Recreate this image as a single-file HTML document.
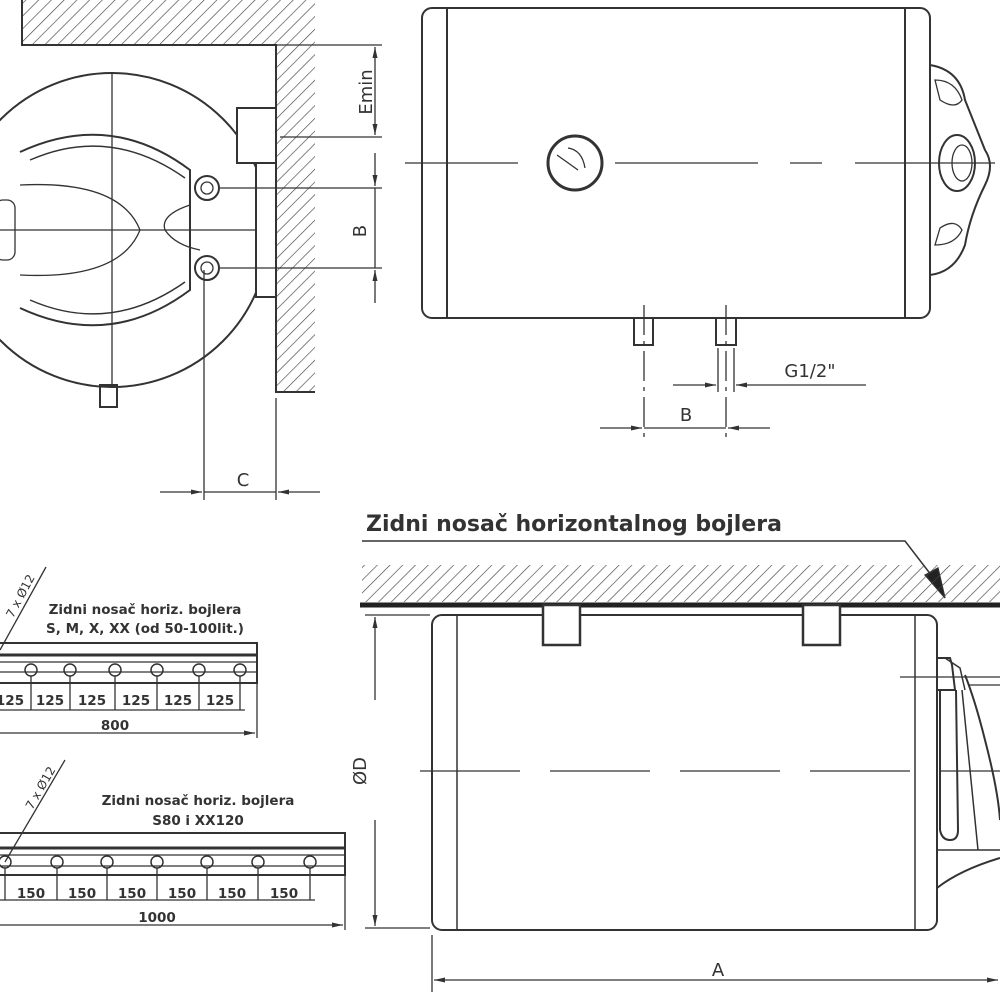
<!DOCTYPE html>
<html><head><meta charset="utf-8"><style>
html,body{margin:0;padding:0;background:#fff}
svg{display:block}
text{font-family:"DejaVu Sans","Liberation Sans",sans-serif;fill:#333}
</style></head><body>
<svg width="1000" height="1000" viewBox="0 0 1000 1000" xmlns="http://www.w3.org/2000/svg">
<defs>
<pattern id="h" width="9" height="9" patternUnits="userSpaceOnUse" patternTransform="rotate(45)">
<line x1="0" y1="0" x2="0" y2="9" stroke="#444" stroke-width="1.3"/>
</pattern>
<marker id="a" markerWidth="12" markerHeight="8" refX="11" refY="4" orient="auto" markerUnits="userSpaceOnUse">
<path d="M0,1.5 L11,4 L0,6.5 Z" fill="#333"/></marker>
</defs>
<g stroke="#333" fill="none" stroke-width="1.3">
<rect x="22" y="0" width="293" height="45" fill="url(#h)" stroke="none"/>
<rect x="276" y="45" width="39" height="347" fill="url(#h)" stroke="none"/>
<polyline points="22,0 22,45 276,45 276,392 315,392" stroke-width="2"/>
<circle cx="112" cy="230" r="157" stroke-width="2"/>
<line x1="112" y1="73" x2="112" y2="385"/>
<line x1="0" y1="230" x2="268" y2="230"/>
<path d="M20,152 Q110,110 190,170 L190,290 Q110,350 20,308" stroke-width="2"/>
<path d="M30,160 Q110,125 185,178 M30,300 Q110,335 185,282" stroke-width="1.5"/>
<path d="M20,185 Q120,180 140,230 Q120,280 20,275"/>
<path d="M190,205 Q160,215 165,230 Q175,245 200,250"/>
<rect x="-5" y="200" width="20" height="60" rx="8"/>
<circle cx="207" cy="188" r="12" stroke-width="2"/><circle cx="207" cy="188" r="6"/>
<circle cx="207" cy="268" r="12" stroke-width="2"/><circle cx="207" cy="268" r="6"/>
<rect x="237" y="108" width="39" height="55" fill="#fff" stroke-width="2"/>
<rect x="256" y="163" width="20" height="134" fill="#fff" stroke-width="2"/>
<rect x="100" y="385" width="17" height="22" stroke-width="2"/>
<line x1="276" y1="45" x2="382" y2="45"/>
<line x1="280" y1="137" x2="382" y2="137"/>
<line x1="375" y1="90" x2="375" y2="47" marker-end="url(#a)"/>
<line x1="375" y1="90" x2="375" y2="135" marker-end="url(#a)"/>
<line x1="220" y1="188" x2="382" y2="188"/>
<line x1="220" y1="268" x2="382" y2="268"/>
<line x1="375" y1="153" x2="375" y2="186" marker-end="url(#a)"/>
<line x1="375" y1="303" x2="375" y2="270" marker-end="url(#a)"/>
<line x1="375" y1="188" x2="375" y2="268"/>
<line x1="204" y1="270" x2="204" y2="500"/>
<line x1="276" y1="398" x2="276" y2="500"/>
<line x1="160" y1="492" x2="202" y2="492" marker-end="url(#a)"/>
<line x1="320" y1="492" x2="278" y2="492" marker-end="url(#a)"/>
<line x1="204" y1="492" x2="276" y2="492"/>
<rect x="422" y="8" width="508" height="310" rx="10" stroke-width="2"/>
<line x1="447" y1="8" x2="447" y2="318" stroke-width="2"/>
<line x1="905" y1="8" x2="905" y2="318" stroke-width="2"/>
<line x1="405" y1="163" x2="518" y2="163"/>
<line x1="615" y1="163" x2="758" y2="163"/>
<line x1="790" y1="163" x2="822" y2="163"/>
<line x1="855" y1="163" x2="995" y2="163"/>
<circle cx="575" cy="163" r="27" stroke-width="3"/>
<path d="M557,155 L578,170 M568,148 Q582,150 585,168"/>
<path d="M930,65 Q960,70 965,100 Q975,125 985,150 Q995,165 985,185 Q970,215 965,245 Q955,272 930,275" stroke-width="2"/>
<path d="M935,80 Q955,80 962,100 Q955,110 940,100 Z M935,245 Q955,245 962,230 Q955,218 940,228 Z"/>
<ellipse cx="957" cy="163" rx="18" ry="28" stroke-width="2"/>
<ellipse cx="962" cy="163" rx="10" ry="18"/>
<rect x="634" y="318" width="19" height="27" stroke-width="2"/>
<rect x="716" y="318" width="20" height="27" stroke-width="2"/>
<line x1="644" y1="305" x2="644" y2="440" stroke-dasharray="30,6,4,6"/>
<line x1="726" y1="305" x2="726" y2="440" stroke-dasharray="30,6,4,6"/>
<line x1="718" y1="348" x2="718" y2="392"/><line x1="734" y1="348" x2="734" y2="392"/>
<line x1="673" y1="385" x2="716" y2="385" marker-end="url(#a)"/>
<line x1="866" y1="385" x2="736" y2="385" marker-end="url(#a)"/>
<line x1="600" y1="428" x2="642" y2="428" marker-end="url(#a)"/>
<line x1="770" y1="428" x2="728" y2="428" marker-end="url(#a)"/>
<line x1="644" y1="428" x2="726" y2="428"/>
<polyline points="362,541 905,541 935,580" stroke-width="1.5"/>
<path d="M925,575 L945,598 L938,568 Z" fill="#222"/>
<rect x="362" y="565" width="638" height="37" fill="url(#h)" stroke="none"/>
<line x1="360" y1="605" x2="1000" y2="605" stroke-width="5" stroke="#222"/>
<!-- bottom boiler -->
<rect x="432" y="615" width="505" height="315" rx="10" stroke-width="2"/>
<line x1="457" y1="615" x2="457" y2="930" stroke-width="1.5"/>
<line x1="915" y1="615" x2="915" y2="930" stroke-width="1.5"/>
<rect x="543" y="605" width="37" height="40" fill="#fff" stroke-width="2.5"/>
<rect x="803" y="605" width="37" height="40" fill="#fff" stroke-width="2.5"/>
<line x1="420" y1="771" x2="1000" y2="771" stroke-dasharray="100,30"/>
<!-- cap -->
<path d="M937,658 L950,658 L952,665 L955,690 L937,690" stroke-width="2"/>
<path d="M945,658 L960,668 L965,690" stroke-width="1.5"/>
<path d="M940,690 L940,830 Q942,840 950,840 Q958,840 958,830 L956,690" stroke-width="2"/>
<path d="M962,690 L978,850" stroke-width="1.5"/>
<path d="M965,675 Q975,700 985,740 Q998,790 1000,820" stroke-width="2"/>
<line x1="900" y1="677" x2="1000" y2="677"/>
<line x1="968" y1="685" x2="1000" y2="685"/>
<line x1="937" y1="850" x2="1000" y2="850" stroke-width="1.5"/>
<path d="M937,888 Q960,870 1000,858" stroke-width="2"/>
<line x1="365" y1="615" x2="430" y2="615"/>
<line x1="365" y1="928" x2="430" y2="928"/>
<line x1="375" y1="700" x2="375" y2="617" marker-end="url(#a)"/>
<line x1="375" y1="820" x2="375" y2="926" marker-end="url(#a)"/>
<line x1="432" y1="935" x2="432" y2="992"/>
<line x1="600" y1="980" x2="434" y2="980" marker-end="url(#a)"/>
<line x1="600" y1="980" x2="998" y2="980" marker-end="url(#a)"/>
<!-- bracket 1 -->
<rect x="-2" y="643" width="259" height="40" stroke-width="2"/>
<line x1="0" y1="655" x2="257" y2="655" stroke-width="3"/>
<line x1="0" y1="662" x2="257" y2="662"/>
<line x1="0" y1="672" x2="257" y2="672"/>
<g stroke-width="1.5">
<circle cx="31" cy="670" r="6"/><circle cx="70" cy="670" r="6"/><circle cx="115" cy="670" r="6"/><circle cx="157" cy="670" r="6"/><circle cx="199" cy="670" r="6"/><circle cx="240" cy="670" r="6"/>
</g>
<path d="M31,676 V710 M70,676 V710 M115,676 V710 M157,676 V710 M199,676 V710 M240,676 V710"/>
<line x1="0" y1="710" x2="245" y2="710"/>
<line x1="257" y1="683" x2="257" y2="738"/>
<line x1="0" y1="733" x2="255" y2="733" marker-end="url(#a)"/>
<line x1="0" y1="650" x2="46" y2="567"/>
<!-- bracket 2 -->
<rect x="-2" y="833" width="347" height="42" stroke-width="2"/>
<line x1="0" y1="848" x2="345" y2="848" stroke-width="3"/>
<line x1="0" y1="855" x2="345" y2="855"/>
<line x1="0" y1="866" x2="345" y2="866"/>
<g stroke-width="1.5">
<circle cx="5" cy="862" r="6"/><circle cx="57" cy="862" r="6"/><circle cx="107" cy="862" r="6"/><circle cx="157" cy="862" r="6"/><circle cx="207" cy="862" r="6"/><circle cx="258" cy="862" r="6"/><circle cx="310" cy="862" r="6"/>
</g>
<path d="M5,868 V900 M57,868 V900 M107,868 V900 M157,868 V900 M207,868 V900 M258,868 V900 M310,868 V900"/>
<line x1="0" y1="900" x2="315" y2="900"/>
<line x1="345" y1="875" x2="345" y2="930"/>
<line x1="0" y1="925" x2="343" y2="925" marker-end="url(#a)"/>
<line x1="5" y1="862" x2="65" y2="760"/>
</g>
<text x="372" y="92" font-size="18" transform="rotate(-90 372 92)" text-anchor="middle">Emin</text>
<text x="366" y="231" font-size="18" transform="rotate(-90 366 231)" text-anchor="middle">B</text>
<text x="243" y="486" font-size="18" text-anchor="middle">C</text>
<text x="810" y="377" font-size="18" text-anchor="middle">G1/2"</text>
<text x="686" y="421" font-size="18" text-anchor="middle">B</text>
<text x="366" y="531" font-size="22" font-weight="bold" fill="#333">Zidni nosač horizontalnog bojlera</text>
<text x="366" y="771" font-size="18" transform="rotate(-90 366 771)" text-anchor="middle">ØD</text>
<text x="718" y="976" font-size="18" text-anchor="middle">A</text>
<text x="145" y="614" font-size="13.5" font-weight="bold" text-anchor="middle">Zidni nosač horiz. bojlera</text>
<text x="145" y="633" font-size="13.5" font-weight="bold" text-anchor="middle">S, M, X, XX (od 50-100lit.)</text>
<text x="24" y="598" font-size="12" transform="rotate(-62 24 598)" text-anchor="middle">7 x Ø12</text>
<g font-size="13.5" font-weight="bold" text-anchor="middle">
<text x="10" y="705">125</text><text x="50" y="705">125</text><text x="92" y="705">125</text><text x="136" y="705">125</text><text x="178" y="705">125</text><text x="220" y="705">125</text>
<text x="115" y="730">800</text>
<text x="198" y="805">Zidni nosač horiz. bojlera</text>
<text x="198" y="825">S80 i XX120</text>
<text x="31" y="898">150</text><text x="82" y="898">150</text><text x="132" y="898">150</text><text x="182" y="898">150</text><text x="232" y="898">150</text><text x="284" y="898">150</text>
<text x="157" y="922">1000</text>
</g>
<text x="44" y="790" font-size="12" transform="rotate(-60 44 790)" text-anchor="middle">7 x Ø12</text>
</svg>
</body></html>
